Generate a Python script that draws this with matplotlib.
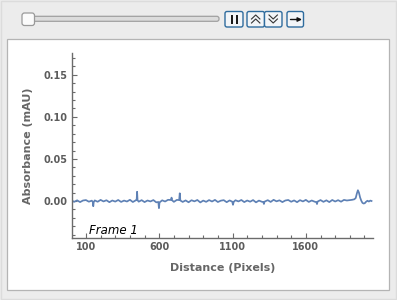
import matplotlib
matplotlib.use("Agg")
import matplotlib.pyplot as plt
from matplotlib.patches import FancyBboxPatch, Rectangle
from matplotlib.ticker import MultipleLocator

# ---------------- DATA ---------------- #
distance = [
    5, 20, 40, 60, 80, 100, 120, 140, 147, 150,
    153, 160, 180, 200, 220, 240, 260, 280, 300, 320,
    340, 360, 380, 400, 420, 440, 446, 449, 452, 460,
    480, 500, 520, 540, 560, 580, 594, 598, 602, 620,
    640, 660, 680, 684, 688, 700, 720, 736, 740, 744,
    760, 780, 800, 820, 840, 860, 880, 900, 920, 940,
    960, 980, 1000, 1020, 1040, 1060, 1080, 1098, 1103, 1108,
    1120, 1140, 1160, 1180, 1200, 1220, 1240, 1260, 1280, 1300,
    1310, 1314, 1318, 1340, 1360, 1380, 1400, 1420, 1440, 1460,
    1480, 1500, 1520, 1540, 1560, 1580, 1600, 1620, 1640, 1660,
    1672, 1676, 1680, 1700, 1720, 1740, 1760, 1780, 1800, 1820,
    1840, 1860, 1880, 1900, 1915, 1930, 1940, 1948, 1955, 1962,
    1970, 1978, 1986, 1994, 2002, 2010, 2020, 2030, 2040, 2048,
]
absorbance = [
    0.0003, -0.0010, 0.0008, -0.0013, 0.0006, 0.0011, -0.0008, 0.0004, -0.0012, -0.0062,
    -0.0014, 0.0007, -0.0009, 0.0013, -0.0005, 0.0009, -0.0014, 0.0006, -0.0007, 0.0012,
    -0.0011, 0.0005, -0.0006, 0.0014, -0.0012, 0.0008, 0.0012, 0.0110, 0.0010, -0.0008,
    0.0010, -0.0013, 0.0006, -0.0005, 0.0011, -0.0016, -0.0012, -0.0085, -0.0017, 0.0008,
    -0.0006, 0.0014, 0.0012, 0.0040, 0.0008, -0.0010, 0.0013, 0.0011, 0.0092, 0.0006,
    -0.0011, 0.0007, -0.0015, 0.0009, -0.0004, 0.0012, -0.0017, 0.0005, -0.0010, 0.0011,
    -0.0006, 0.0013, -0.0012, 0.0004, 0.0010, -0.0014, 0.0007, -0.0008, -0.0045, -0.0010,
    0.0009, -0.0005, 0.0012, -0.0013, 0.0006, -0.0008, 0.0011, -0.0016, 0.0005, -0.0009,
    -0.0012, -0.0035, -0.0008, 0.0010, -0.0011, 0.0014, -0.0004, 0.0008, -0.0013, 0.0006,
    0.0012, -0.0009, 0.0007, -0.0014, 0.0010, -0.0005, 0.0013, -0.0011, 0.0006, -0.0008,
    -0.0014, -0.0036, -0.0007, 0.0011, -0.0010, 0.0008, -0.0013, 0.0012, -0.0006, 0.0010,
    -0.0008, 0.0013, 0.0006, 0.0011, 0.0014, 0.0020, 0.0035, 0.0090, 0.0128, 0.0100,
    0.0042, 0.0004, -0.0022, -0.0030, -0.0026, -0.0010, 0.0003, -0.0006, 0.0005, 0.0000,
]
x_ticks = [100, 600, 1100, 1600]
y_ticks = [0.00, 0.05, 0.10, 0.15]
frame_label = "Frame 1"

# ---------------- FIGURE + PANEL ---------------- #
W, H = 397, 300
fig = plt.figure(figsize=(W / 100, H / 100), dpi=100)
fig.patch.set_facecolor("#ececec")

bg = fig.add_axes([0, 0, 1, 1])
bg.set_xlim(0, W)
bg.set_ylim(H, 0)
bg.axis("off")

# outer frame lines
bg.add_patch(Rectangle((0.5, 0.5), W - 1.5, H - 1.5, fill=False, ec="#dcdcdc", lw=1))
# white plot panel
bg.add_patch(Rectangle((7, 38.5), 382, 251, fc="white", ec="#b4b4b4", lw=0.9))

# slider track + knob
bg.add_patch(FancyBboxPatch((30, 16.3), 189, 5, boxstyle="round,pad=0,rounding_size=2.2",
                            fc="#dcdcdc", ec="#a0a0a0", lw=0.9))
bg.add_patch(FancyBboxPatch((22, 13), 12.5, 12.5, boxstyle="round,pad=0,rounding_size=2.5",
                            fc="#fbfbfb", ec="#9a9a9a", lw=0.9))

# buttons
btn_edge = "#2f6c9e"
for x0, w in [(225, 18), (247, 17.5), (264.5, 17.5), (287, 16.5)]:
    bg.add_patch(FancyBboxPatch((x0, 11.5), w, 15.5, boxstyle="round,pad=0,rounding_size=2",
                                fc="#f2f5f8", ec=btn_edge, lw=1.0))
# pause glyph
bg.add_patch(Rectangle((230.5, 14.5), 2.6, 9.5, fc="#1a1a1a", ec="none"))
bg.add_patch(Rectangle((235.5, 14.5), 2.6, 9.5, fc="#1a1a1a", ec="none"))
# up / down double chevrons
for dy in (0, 4):
    bg.plot([251.5, 255.7, 259.9], [19 + dy, 15 + dy, 19 + dy], color="#333333", lw=0.8)
    bg.plot([269, 273.2, 277.4], [15 + dy, 19 + dy, 15 + dy], color="#333333", lw=0.8)
# right arrow
bg.annotate("", xy=(302, 19.5), xytext=(290.5, 19.5),
            arrowprops=dict(arrowstyle="-|>", color="#111111", lw=1.0,
                            mutation_scale=6, shrinkA=0, shrinkB=0))

# ---------------- PLOT ---------------- #
ax = fig.add_axes([72 / W, 1 - 238 / H, 301 / W, 185 / H])
ax.set_facecolor("none")
ax.plot(distance, absorbance, color="#5e81b5", lw=1.25)

ax.set_xlim(5, 2058)
ax.set_ylim(-0.044, 0.176)
ax.set_xticks(x_ticks)
ax.set_yticks(y_ticks)
ax.set_yticklabels([f"{v:.2f}" for v in y_ticks])
ax.xaxis.set_minor_locator(MultipleLocator(100))
ax.yaxis.set_minor_locator(MultipleLocator(0.01))

axis_grey = "#6b6b6b"
for side in ["top", "right"]:
    ax.spines[side].set_visible(False)
for side in ["left", "bottom"]:
    ax.spines[side].set_color(axis_grey)
    ax.spines[side].set_linewidth(1.0)

ax.tick_params(which="both", direction="in", color=axis_grey, width=0.8,
               labelcolor="#5c5c5c", labelsize=7, pad=3)
ax.tick_params(which="major", length=3.5)
ax.tick_params(which="minor", length=2)
for lab in ax.get_xticklabels() + ax.get_yticklabels():
    lab.set_fontweight("bold")

ax.set_xlabel("Distance (Pixels)", fontsize=8, fontweight="bold", color="#666666", labelpad=8)
ax.set_ylabel("Absorbance (mAU)", fontsize=8, fontweight="bold", color="#666666", labelpad=8)

ax.text(0.056, 0.02, frame_label, transform=ax.transAxes, fontsize=8.5,
        style="italic", color="black", va="baseline")

fig.savefig("out.png", dpi=100, facecolor=fig.get_facecolor())
